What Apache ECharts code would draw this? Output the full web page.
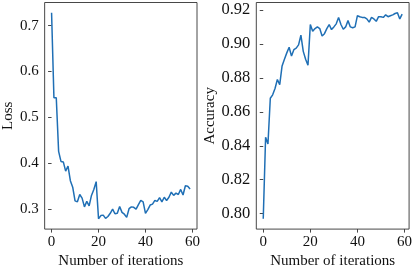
<!DOCTYPE html>
<html><head><meta charset="utf-8">
<script src="https://cdn.jsdelivr.net/npm/echarts@6/dist/echarts.min.js"></script>
<style>html,body{margin:0;padding:0;background:#fff}#c{width:415px;height:274px}</style>
</head><body><div id="c"></div>
<script>
const iterations = Array.from({length: 60}, (_, i) => i);
const lossValues = [0.728,0.543,0.543,0.426,0.404,0.403,0.383,0.394,0.362,0.348,
  0.318,0.316,0.332,0.324,0.305,0.317,0.307,0.330,0.343,0.360,
  0.279,0.286,0.287,0.280,0.284,0.291,0.300,0.290,0.291,0.306,
  0.293,0.289,0.282,0.301,0.305,0.304,0.300,0.310,0.319,0.316,
  0.291,0.299,0.309,0.311,0.319,0.317,0.325,0.316,0.326,0.319,
  0.326,0.337,0.330,0.335,0.332,0.343,0.331,0.351,0.350,0.344];
const accValues = [0.797,0.845,0.841,0.868,0.870,0.8737,0.879,0.876,0.887,0.891,
  0.8947,0.898,0.8928,0.8966,0.8975,0.8994,0.9051,0.8956,0.891,0.8874,
  0.9114,0.9074,0.909,0.910,0.909,0.9046,0.906,0.909,0.9114,0.9084,
  0.910,0.9118,0.9156,0.9114,0.9086,0.910,0.9137,0.910,0.9095,0.910,
  0.9166,0.916,0.9156,0.9156,0.9147,0.9128,0.9156,0.9147,0.9133,0.916,
  0.916,0.9156,0.9171,0.916,0.9166,0.9171,0.9179,0.9183,0.9147,0.9175];
const xTicks = [0, 20, 40, 60];
const lossTicks = [0.3, 0.4, 0.5, 0.6, 0.7];
const accTicks = [0.80, 0.82, 0.84, 0.86, 0.88, 0.90, 0.92];
const xTitle = 'Number of iterations';
const lossTitle = 'Loss';
const accTitle = 'Accuracy';

function pad(arr){const mn=Math.min(...arr),mx=Math.max(...arr),r=mx-mn;return [mn-0.05*r,mx+0.05*r];}
const xr = pad(iterations), lr = pad(lossValues), ar = pad(accValues);
const FONT = '"Liberation Serif","Times New Roman",serif';
const txt = {fontFamily: FONT, fontSize: 15, color: '#111'};
function xAxis(gi){return {type:'value', gridIndex:gi, min:xr[0], max:xr[1],
  name:xTitle, nameLocation:'middle', nameGap:24, nameTextStyle:txt,
  axisLine:{show:false}, splitLine:{show:false},
  axisTick:{show:true, customValues:xTicks, length:3.5, inside:false, lineStyle:{color:'#333', width:0.9}},
  axisLabel:{customValues:xTicks, margin:5, ...txt}};}
function yAxis(gi, r, ticks, name, dec, gap, fs){return {type:'value', gridIndex:gi, min:r[0], max:r[1],
  name:name, nameLocation:'middle', nameGap:gap, nameRotate:90, nameTextStyle:txt,
  axisLine:{show:false}, splitLine:{show:false},
  axisTick:{show:true, customValues:ticks, length:3.5, lineStyle:{color:'#333', width:0.9}},
  axisLabel:{customValues:ticks, margin:6, formatter:v=>v.toFixed(dec), ...txt, fontSize:fs}};}
const chart = echarts.init(document.getElementById('c'), null, {renderer:'canvas'});
chart.setOption({
  animation:false,
  grid:[
    {left:42.3, right:218, top:2.5, bottom:39, show:true, borderColor:'#333', borderWidth:0.9, backgroundColor:'transparent'},
    {left:256.3, right:4.4, top:2.5, bottom:39, show:true, borderColor:'#333', borderWidth:0.9, backgroundColor:'transparent'}
  ],
  xAxis:[xAxis(0), xAxis(1)],
  yAxis:[yAxis(0, lr, lossTicks, lossTitle, 1, 28, 15), yAxis(1, ar, accTicks, accTitle, 2, 37, 16.5)],
  series:[
    {type:'line', xAxisIndex:0, yAxisIndex:0, data:iterations.map((x,i)=>[x,lossValues[i]]), showSymbol:false, lineStyle:{color:'#1f6fb5', width:1.5}},
    {type:'line', xAxisIndex:1, yAxisIndex:1, data:iterations.map((x,i)=>[x,accValues[i]]), showSymbol:false, lineStyle:{color:'#1f6fb5', width:1.5}}
  ]
});
</script></body></html>
